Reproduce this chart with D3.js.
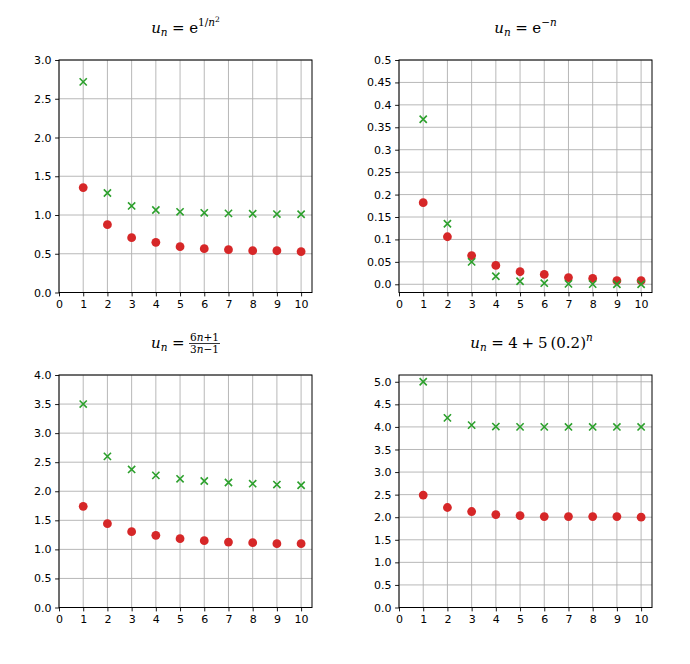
<!DOCTYPE html>
<html>
<head>
<meta charset="utf-8">
<script src="https://cdn.jsdelivr.net/npm/d3@7"></script>
<style>
  body { margin: 0; background: #fff; }
  .tick text { font-family: "DejaVu Sans"; font-size: 11px; fill: #000; }
  .tick line { stroke: #000; stroke-width: 0.9px; }
  .title text { font-family: "DejaVu Serif"; fill: #000; }
</style>
</head>
<body>
<div id="chart"></div>
<script>
// Data
const nValues = [1, 2, 3, 4, 5, 6, 7, 8, 9, 10];
const xTicks = [0, 1, 2, 3, 4, 5, 6, 7, 8, 9, 10];

const green1 = [2.718, 1.284, 1.117, 1.065, 1.041, 1.028, 1.021, 1.016, 1.012, 1.010];
const red1 = [1.354, 0.875, 0.707, 0.647, 0.591, 0.565, 0.552, 0.540, 0.539, 0.527];
const yTicks1 = [0, 0.5, 1, 1.5, 2, 2.5, 3];

const green2 = [0.368, 0.135, 0.050, 0.018, 0.0067, 0.0025, 0.0009, 0.0003, 0.0001, 0.00005];
const red2 = [0.182, 0.106, 0.064, 0.042, 0.028, 0.022, 0.015, 0.013, 0.008, 0.008];
const yTicks2 = [0, 0.05, 0.1, 0.15, 0.2, 0.25, 0.3, 0.35, 0.4, 0.45, 0.5];

const green3 = [3.5, 2.6, 2.375, 2.273, 2.214, 2.176, 2.15, 2.130, 2.115, 2.103];
const red3 = [1.741, 1.443, 1.305, 1.241, 1.184, 1.149, 1.126, 1.115, 1.098, 1.098];
const yTicks3 = [0, 0.5, 1, 1.5, 2, 2.5, 3, 3.5, 4];

const green4 = [5.0, 4.2, 4.04, 4.008, 4.0016, 4.0003, 4.0001, 4.0, 4.0, 4.0];
const red4 = [2.49, 2.215, 2.126, 2.059, 2.037, 2.015, 2.015, 2.015, 2.015, 2.0];
const yTicks4 = [0, 0.5, 1, 1.5, 2, 2.5, 3, 3.5, 4, 4.5, 5];

const W = 690, H = 664;
const svg = d3.select('#chart').append('svg')
  .attr('width', W).attr('height', H);

const S = 15; // title font size

// title pieces: t text, it italic, lvl 0 normal / 1 sup / 2 supsup / -1 sub
const panels = [
  { left: 59, top: 60, green: green1, red: red1, yTicks: yTicks1, yDomain: [0, 3],
    fmt: d => d.toFixed(1), tdx: 0,
    title: [{t: 'u', it: 1}, {t: 'n', it: 1, lvl: -1, sp: 0.3}, {t: '=', sp: 0.3}, {t: 'e'},
            {t: '1/', lvl: 1}, {t: 'n', it: 1, lvl: 1}, {t: '2', lvl: 2}] },
  { left: 399, top: 60, green: green2, red: red2, yTicks: yTicks2, yDomain: [-0.0183, 0.5],
    fmt: d => d === 0 ? '0.0' : String(+d.toFixed(2)), tdx: 0,
    title: [{t: 'u', it: 1}, {t: 'n', it: 1, lvl: -1, sp: 0.3}, {t: '=', sp: 0.3}, {t: 'e'},
            {t: '−', lvl: 1}, {t: 'n', it: 1, lvl: 1}] },
  { left: 59, top: 375, green: green3, red: red3, yTicks: yTicks3, yDomain: [0, 4],
    fmt: d => d.toFixed(1), tdx: 0,
    title: [{t: 'u', it: 1}, {t: 'n', it: 1, lvl: -1, sp: 0.3}, {t: '=', sp: 0.3},
            {frac: [[{t: '6'}, {t: 'n', it: 1}, {t: '+1'}], [{t: '3'}, {t: 'n', it: 1}, {t: '−1'}]]}] },
  { left: 399, top: 375, green: green4, red: red4, yTicks: yTicks4, yDomain: [0, 5.15],
    fmt: d => d.toFixed(1), tdx: 6,
    title: [{t: 'u', it: 1}, {t: 'n', it: 1, lvl: -1, sp: 0.3}, {t: '=', sp: 0.3}, {t: '4', sp: 0.25},
            {t: '+', sp: 0.25}, {t: '5', sp: 0.2}, {t: '(0.2)'}, {t: 'n', it: 1, lvl: 1}] }
];

const pw = 253, ph = 232.5;

function addText(g, p, x, y, size) {
  const t = g.append('text')
    .attr('x', x).attr('y', y)
    .attr('font-family', 'DejaVu Serif')
    .style('font-size', size + 'px')
    .style('font-style', p.it ? 'italic' : 'normal')
    .text(p.t);
  return t.node().getComputedTextLength();
}

function mathTitle(parent, cx, baseline, parts) {
  const g = parent.append('g').attr('class', 'title');
  let x = 0;
  parts.forEach(p => {
    if (p.frac) {
      const fs = S * 0.7;
      const num = g.append('g'), den = g.append('g');
      let wn = 0, wd = 0;
      p.frac[0].forEach(q => { wn += addText(num, q, wn, 0, fs); });
      p.frac[1].forEach(q => { wd += addText(den, q, wd, 0, fs); });
      const w = Math.max(wn, wd) + 2;
      num.attr('transform', `translate(${x + (w - wn) / 2},${-S * 0.45})`);
      den.attr('transform', `translate(${x + (w - wd) / 2},${S * 0.33})`);
      g.append('line')
        .attr('x1', x).attr('x2', x + w)
        .attr('y1', -S * 0.3).attr('y2', -S * 0.3)
        .attr('stroke', '#000').attr('stroke-width', 0.8);
      x += w;
      return;
    }
    const lvl = p.lvl || 0;
    const size = lvl === 1 ? S * 0.7 : lvl === 2 ? S * 0.5 : lvl === -1 ? S * 0.7 : S;
    const dy = lvl === 1 ? -S * 0.45 : lvl === 2 ? -S * 0.75 : lvl === -1 ? S * 0.22 : 0;
    x += addText(g, p, x, dy, size) + (p.sp || 0) * S;
  });
  g.attr('transform', `translate(${cx - x / 2},${baseline})`);
}

panels.forEach(p => {
  const x = d3.scaleLinear().domain([0, 10.45]).range([p.left, p.left + pw]);
  const y = d3.scaleLinear().domain(p.yDomain).range([p.top + ph, p.top]);

  const g = svg.append('g');

  // grid
  g.append('g').selectAll('line').data(xTicks).join('line')
    .attr('x1', d => x(d)).attr('x2', d => x(d))
    .attr('y1', p.top).attr('y2', p.top + ph)
    .attr('stroke', '#b0b0b0').attr('stroke-width', 0.9);
  g.append('g').selectAll('line').data(p.yTicks).join('line')
    .attr('x1', p.left).attr('x2', p.left + pw)
    .attr('y1', d => y(d)).attr('y2', d => y(d))
    .attr('stroke', '#b0b0b0').attr('stroke-width', 0.9);

  // axes
  const ax = g.append('g')
    .attr('transform', `translate(0,${p.top + ph})`)
    .call(d3.axisBottom(x).tickValues(xTicks).tickSize(3.9).tickPadding(3.5).tickFormat(d3.format('d')))
    .attr('font-family', 'DejaVu Sans').attr('font-size', 11);
  ax.select('.domain').remove();
  const ay = g.append('g')
    .attr('transform', `translate(${p.left},0)`)
    .call(d3.axisLeft(y).tickValues(p.yTicks).tickSize(3.9).tickPadding(3.5).tickFormat(p.fmt))
    .attr('font-family', 'DejaVu Sans').attr('font-size', 11);
  ay.select('.domain').remove();

  // points
  g.append('g').selectAll('circle').data(p.red).join('circle')
    .attr('cx', (d, i) => x(nValues[i]))
    .attr('cy', d => y(d))
    .attr('r', 4.4)
    .attr('fill', '#d62728');
  g.append('g').selectAll('path').data(p.green).join('path')
    .attr('d', (d, i) => {
      const cx = x(nValues[i]), cy = y(d), s = 3.6;
      return `M${cx - s},${cy - s}L${cx + s},${cy + s}M${cx - s},${cy + s}L${cx + s},${cy - s}`;
    })
    .attr('stroke', '#2ca02c').attr('stroke-width', 1.6).attr('fill', 'none');

  // frame
  g.append('rect')
    .attr('x', p.left).attr('y', p.top)
    .attr('width', pw).attr('height', ph)
    .attr('fill', 'none').attr('stroke', '#000').attr('stroke-width', 1);

  mathTitle(svg, p.left + pw / 2 + p.tdx, p.top - 27, p.title);
});
</script>
</body>
</html>
